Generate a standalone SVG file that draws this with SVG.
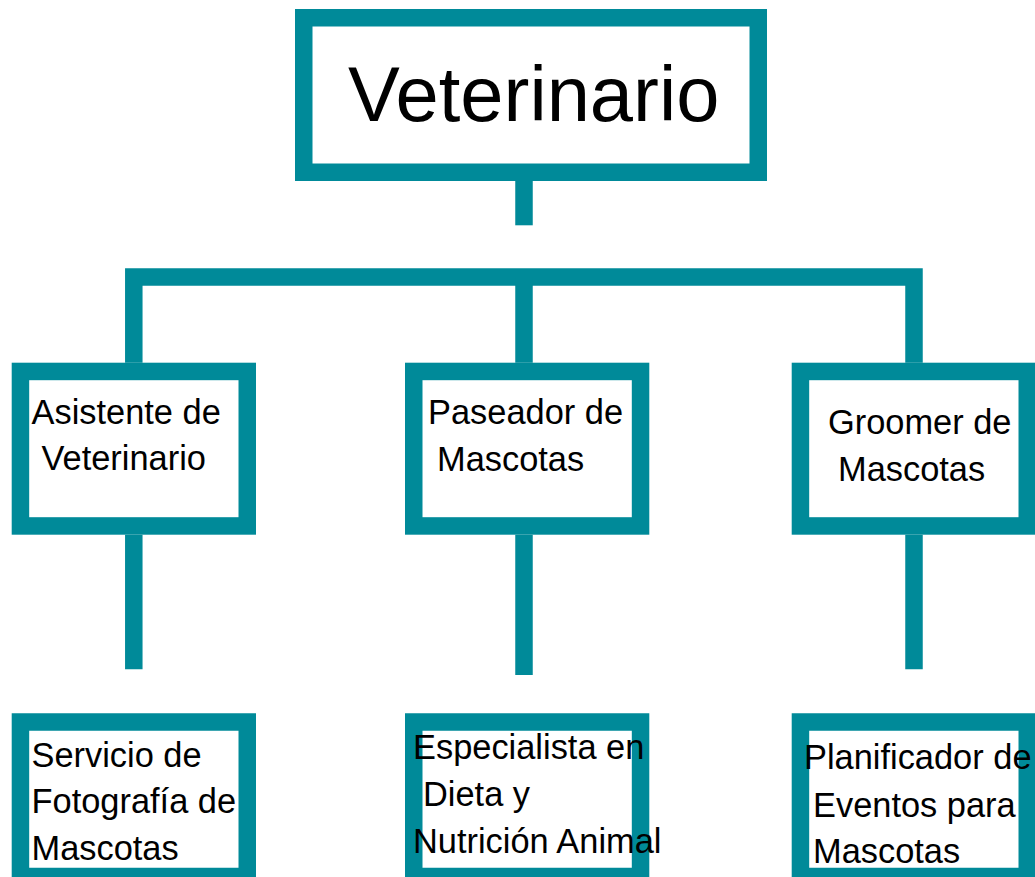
<svg xmlns="http://www.w3.org/2000/svg" width="1035" height="877" viewBox="0 0 1035 877">
  <style>
    .box { fill: #ffffff; stroke: #008A99; stroke-width: 17.5; }
    .conn { fill: none; stroke: #008A99; stroke-width: 17.5; stroke-linecap: butt; stroke-linejoin: miter; }
    .lbl { font-family: "Liberation Sans", Arial, sans-serif; font-size: 34.4px; fill: #000000; }
    .title { font-family: "Liberation Sans", Arial, sans-serif; font-size: 77.7px; fill: #000000; }
  </style>
  <rect width="1035" height="877" fill="#ffffff"/>
  <g id="connectors">
    <line class="conn" x1="524" y1="181" x2="524" y2="225.3"/>
    <path class="conn" d="M133.8,362.7 V276.9 H914 V362.7"/>
    <line class="conn" x1="524" y1="276.9" x2="524" y2="362.7"/>
    <line class="conn" x1="133.8" y1="534.7" x2="133.8" y2="669.3"/>
    <line class="conn" x1="524" y1="534.7" x2="524" y2="675"/>
    <line class="conn" x1="914" y1="534.7" x2="914" y2="669.3"/>
  </g>
  <g id="node-veterinario">
    <rect class="box" x="303.75" y="17.75" width="454.5" height="154.5"/>
    <text class="title" x="348" y="120.7">Veterinario</text>
  </g>
  <g id="node-asistente">
    <rect class="box" x="20.45" y="371.45" width="226.8" height="154.5"/>
    <text class="lbl" x="31.5" y="424.3">Asistente de</text>
    <text class="lbl" x="41.5" y="470">Veterinario</text>
  </g>
  <g id="node-paseador">
    <rect class="box" x="413.75" y="371.45" width="226.8" height="154.5"/>
    <text class="lbl" x="428" y="424">Paseador de</text>
    <text class="lbl" x="437" y="470.7">Mascotas</text>
  </g>
  <g id="node-groomer">
    <rect class="box" x="800.45" y="371.45" width="226.8" height="154.5"/>
    <text class="lbl" x="828" y="434">Groomer de</text>
    <text class="lbl" x="838" y="481">Mascotas</text>
  </g>
  <g id="node-fotografia">
    <rect class="box" x="20.45" y="722" width="226.8" height="154.5"/>
    <text class="lbl" x="31.5" y="766.7">Servicio de</text>
    <text class="lbl" x="31.5" y="813.3">Fotografía de</text>
    <text class="lbl" x="31.5" y="860">Mascotas</text>
  </g>
  <g id="node-nutricion">
    <rect class="box" x="413.75" y="722" width="226.8" height="154.5"/>
    <text class="lbl" x="413" y="759.3">Especialista en</text>
    <text class="lbl" x="423" y="806">Dieta y</text>
    <text class="lbl" x="413" y="853.3">Nutrición Animal</text>
  </g>
  <g id="node-eventos">
    <rect class="box" x="800.45" y="722" width="226.8" height="154.5"/>
    <text class="lbl" x="804" y="769.3">Planificador de</text>
    <text class="lbl" x="813" y="816.7">Eventos para</text>
    <text class="lbl" x="813" y="862.7">Mascotas</text>
  </g>
</svg>
